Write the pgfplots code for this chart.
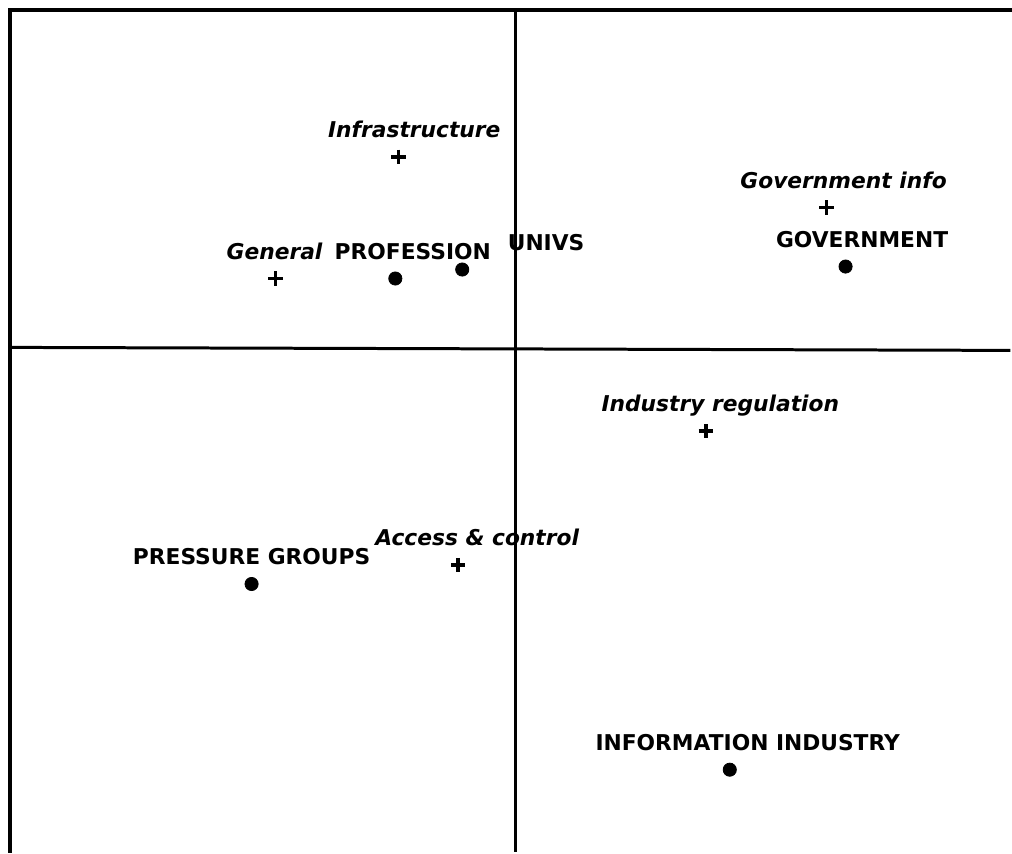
\documentclass[border=0pt]{standalone}
\usepackage{fontspec}
\setmainfont{DejaVu Sans}
\usepackage{pgfplots}
\pgfplotsset{compat=1.18}
\usepackage{pgfplotstable}

\pgfplotstableread[col sep=comma]{
x,y,dx,label
-1.17,1.92,8,Infrastructure
-2.40,0.70,-0.5,General
3.12,1.41,8.5,Government info
1.91,-0.83,7.25,Industry regulation
-0.57,-2.17,9.5,Access \& control
}\vars

\pgfplotstableread[col sep=comma]{
x,y,dx,label
-1.20,0.70,8.75,PROFESSION
-0.53,0.79,42,UNIVS
3.31,0.82,8.25,GOVERNMENT
-2.64,-2.36,0,PRESSURE GROUPS
2.15,-4.22,9,INFORMATION INDUSTRY
}\groups

\begin{document}
\begin{tikzpicture}
\begin{axis}[
  width=506pt, height=426.5pt, scale only axis,
  xmin=-5.16, xmax=4.96, ymin=-5.04, ymax=3.49,
  hide axis, clip=false,
]
% invisible box that fixes the picture's extent
\path (axis cs:-5.16,-5.04) rectangle (axis cs:4.96,3.49);
% frame (left and top) and the two axes
\addplot[black, line width=1.7pt, line cap=rect] coordinates {(-5.06,-5.04) (-5.06,3.39) (4.96,3.39)};
\addplot[black, line width=1.5pt] coordinates {(-5.06,0.01) (4.96,-0.02)};
\addplot[black, line width=1.5pt] coordinates {(0,3.39) (0,-5.04)};
% variables
\addplot[only marks, mark=+, mark size=3.6pt, mark options={line width=1.8pt, black},
  nodes near coords, point meta=explicit symbolic,
  visualization depends on={\thisrow{dx} \as \labeldx},
  every node near coord/.append style={anchor=base, xshift=\labeldx pt, yshift=9.75pt,
    inner sep=0pt, text=black, font=\bfseries\itshape\fontsize{10.9}{12}\selectfont}]
  table[x=x, y=y, meta=label] {\vars};
% groups
\addplot[only marks, mark=*, mark size=3.3pt, mark options={black, fill=black},
  nodes near coords, point meta=explicit symbolic,
  visualization depends on={\thisrow{dx} \as \labeldx},
  every node near coord/.append style={anchor=base, xshift=\labeldx pt, yshift=9.75pt,
    inner sep=0pt, text=black, font=\bfseries\fontsize{10.9}{12}\selectfont}]
  table[x=x, y=y, meta=label] {\groups};
\end{axis}
\end{tikzpicture}
\end{document}
